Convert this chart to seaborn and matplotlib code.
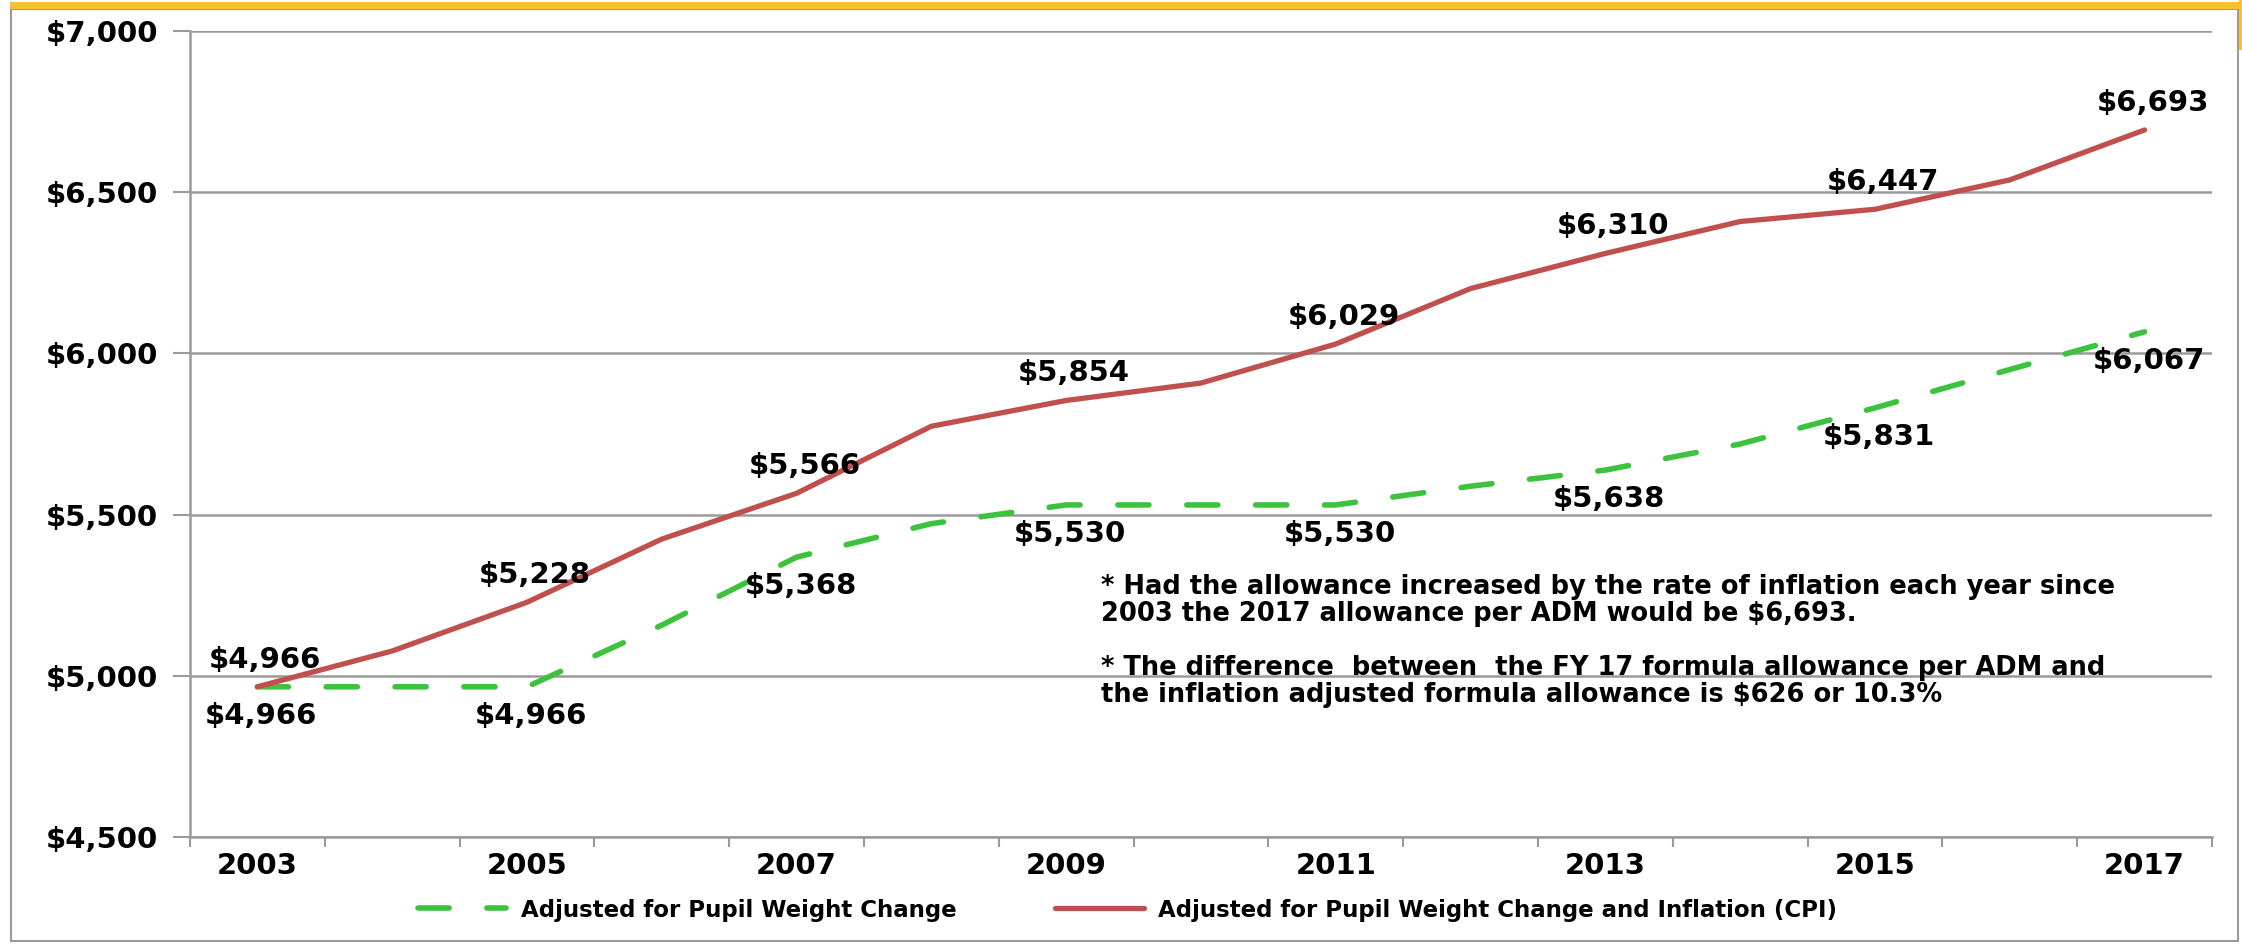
import pandas as pd
import matplotlib.pyplot as plt
import seaborn as sns
from matplotlib.patches import Rectangle
from matplotlib.ticker import FixedLocator, FuncFormatter

plt.rcParams['text.parse_math'] = False

# values
years = list(range(2003, 2018))
pupil_weight = [4966, 4966, 4966, 5157, 5368, 5472, 5530, 5530, 5530, 5588, 5638, 5719, 5831, 5950, 6067]
with_inflation = [4966, 5077, 5228, 5424, 5566, 5774, 5854, 5908, 6029, 6201, 6310, 6409, 6447, 6538, 6693]
labelled_years = [2003, 2005, 2007, 2009, 2011, 2013, 2015, 2017]
y_ticks = [4500, 5000, 5500, 6000, 6500, 7000]

green_name = 'Adjusted for Pupil Weight Change'
red_name = 'Adjusted for Pupil Weight Change and Inflation (CPI)'
note = ("* Had the allowance increased by the rate of inflation each year since\n"
        "2003 the 2017 allowance per ADM would be $6,693.\n\n"
        "* The difference  between  the FY 17 formula allowance per ADM and\n"
        "the inflation adjusted formula allowance is $626 or 10.3%")

df = pd.DataFrame({'year': years, 'green': pupil_weight, 'red': with_inflation})

GREEN = '#3CC23C'
RED = '#C0504D'
GRID = '#9A9A9A'

sns.set_style('white')
plt.rcParams['font.family'] = ['DejaVu Sans']
plt.rcParams['text.color'] = 'black'
plt.rcParams['xtick.labelcolor'] = 'black'
plt.rcParams['ytick.labelcolor'] = 'black'

fig = plt.figure(figsize=(22.42, 9.44), dpi=100)
ax = fig.add_axes([0.0847, 0.1133, 0.9019, 0.8539])

sns.lineplot(data=df, x='year', y='green', ax=ax, color=GREEN, lw=4,
             linestyle=(0, (5.6, 6.8)), dash_capstyle='round', label=green_name)
sns.lineplot(data=df, x='year', y='red', ax=ax, color=RED, lw=3.8,
             solid_capstyle='round', label=red_name)

ax.set_xlim(2002.5, 2017.5)
ax.set_ylim(4500, 7000)
ax.set_xlabel('')
ax.set_ylabel('')

# category boundaries as ticks, labels on the odd years
ax.xaxis.set_major_locator(FixedLocator([y - 0.5 for y in years] + [2017.5]))
ax.xaxis.set_major_formatter(FuncFormatter(lambda x, p: ''))
ax.xaxis.set_minor_locator(FixedLocator(labelled_years))
ax.xaxis.set_minor_formatter(FuncFormatter(lambda x, p: str(int(round(x)))))
ax.tick_params(axis='x', which='major', direction='out', length=7, width=1.5, color=GRID, bottom=True)
ax.tick_params(axis='x', which='minor', length=0, pad=11, labelsize=21)
for t in ax.xaxis.get_minorticklabels():
    t.set_fontweight('bold')

ax.set_yticks(y_ticks)
ax.yaxis.set_major_formatter(FuncFormatter(lambda v, p: '${:,.0f}'.format(v)))
ax.tick_params(axis='y', direction='out', length=12, width=1.5, color=GRID, left=True, pad=11, labelsize=21)
for t in ax.get_yticklabels():
    t.set_fontweight('bold')

ax.grid(axis='y', color=GRID, lw=1.8)
ax.grid(axis='x', visible=False)
for side in ['top', 'right']:
    ax.spines[side].set_visible(False)
for side in ['left', 'bottom']:
    ax.spines[side].set_color(GRID)
    ax.spines[side].set_linewidth(1.8)

# data labels
for yr, g, r in zip(years, pupil_weight, with_inflation):
    if yr not in labelled_years:
        continue
    ax.annotate('${:,}'.format(r), (yr, r), xytext=(8, 27), textcoords='offset pixels',
                ha='center', va='center', fontsize=21, fontweight='bold')
    ax.annotate('${:,}'.format(g), (yr, g), xytext=(4, -29), textcoords='offset pixels',
                ha='center', va='center', fontsize=21, fontweight='bold')

ax.text(0.4506, 0.326, note, transform=ax.transAxes, ha='left', va='top',
        fontsize=18.5, fontweight='bold', linespacing=1.05)

ax.get_legend().remove()
handles, labels = ax.get_legend_handles_labels()
fig.legend(handles, labels, loc='center', bbox_to_anchor=(0.503, 0.036), ncol=2,
           frameon=False, prop={'size': 16.5, 'weight': 'bold'},
           handlelength=3.85, handletextpad=0.65, columnspacing=4.3)

# outer frame and gold band
fig.patches.append(Rectangle((11 / 2242, 3 / 944), 2227 / 2242, 932 / 944, transform=fig.transFigure,
                             fill=False, edgecolor=GRID, lw=1.5))
fig.patches.append(Rectangle((10 / 2242, 935 / 944), 2232 / 2242, 7 / 944, transform=fig.transFigure,
                             color='#FBC02D', lw=0))
fig.patches.append(Rectangle((2239 / 2242, 894 / 944), 3 / 2242, 50 / 944, transform=fig.transFigure,
                             color='#FBC02D', lw=0))

fig.savefig('out.png', dpi=100)
